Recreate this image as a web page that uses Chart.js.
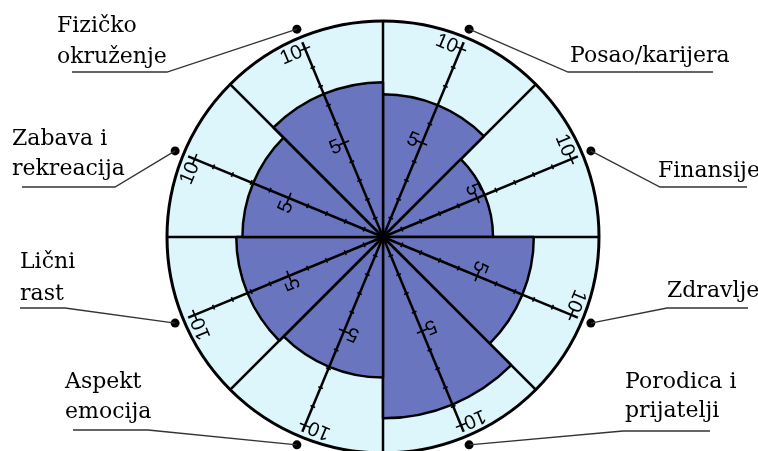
<!DOCTYPE html>
<html>
<head>
<meta charset="utf-8">
<script src="https://cdn.jsdelivr.net/npm/chart.js@4/dist/chart.umd.min.js"></script>
<style>
  html, body { margin: 0; padding: 0; background: #fff; overflow: hidden; }
  #wrap { width: 758px; height: 460px; }
</style>
</head>
<body>
<div id="wrap"><canvas id="wheel"></canvas></div>
<script>
// categories clockwise from the top
const categories = ["Posao/karijera", "Finansije", "Zdravlje", "Porodica i prijatelji",
                    "Aspekt emocija", "Lični rast", "Zabava i rekreacija", "Fizičko okruženje"];
const labelLines = [["Posao/karijera"], ["Finansije"], ["Zdravlje"], ["Porodica i", "prijatelji"],
                    ["Aspekt", "emocija"], ["Lični", "rast"], ["Zabava i", "rekreacija"], ["Fizičko", "okruženje"]];
const scores = [7.0, 5.4, 7.4, 8.9, 6.9, 7.2, 6.9, 7.6];
const scaleMax = 10.6;
const axisTicks = [1, 2, 3, 4, 5, 6, 7, 8, 9, 10];
const axisLabels = [5, 10];

// where each outside label sits: underline start/end and text baselines
const labelLayout = [
    { lx: 568, ly: 72, ex: 713, tx: 570, base: [62] },
    { lx: 660, ly: 187, ex: 747, tx: 658, base: [177] },
    { lx: 667, ly: 308, ex: 748, tx: 667, base: [297] },
    { lx: 623, ly: 431, ex: 710, tx: 625, base: [388, 417] },
    { lx: 148, ly: 430, ex: 73, tx: 65, base: [388, 418] },
    { lx: 65, ly: 308, ex: 20, tx: 20, base: [268, 300] },
    { lx: 115, ly: 187, ex: 22, tx: 12, base: [145, 175] },
    { lx: 167, ly: 72, ex: 72, tx: 57, base: [32, 63] }
];

const segmentAxes = {
    id: "segmentAxes",
    afterDatasetsDraw(chart) {
        const r = chart.scales.r;
        const ctx = chart.ctx;
        const half = Math.PI / categories.length;
        categories.forEach((c, i) => {
            const theta = r.getIndexAngle(i) + half;
            ctx.save();
            ctx.translate(r.xCenter, r.yCenter);
            ctx.rotate(theta);
            ctx.strokeStyle = "#000";
            ctx.lineWidth = 2.5;
            ctx.beginPath();
            ctx.moveTo(0, 0);
            ctx.lineTo(0, -r.getDistanceFromCenterForValue(10.35));
            ctx.stroke();
            ctx.lineWidth = 1.6;
            axisTicks.forEach(v => {
                const d = r.getDistanceFromCenterForValue(v);
                const len = axisLabels.includes(v) ? 5.5 : 2.5;
                ctx.beginPath();
                ctx.moveTo(-len, -d);
                ctx.lineTo(len, -d);
                ctx.stroke();
            });
            ctx.fillStyle = "#000";
            ctx.font = "20px 'Liberation Sans', Arial, sans-serif";
            ctx.textAlign = "right";
            ctx.textBaseline = "middle";
            axisLabels.forEach(v => {
                ctx.fillText(String(v), -4, -r.getDistanceFromCenterForValue(v) + 1);
            });
            ctx.restore();
        });

        // outside labels with leader lines
        const outer = r.getDistanceFromCenterForValue(scaleMax) + 9;
        categories.forEach((c, i) => {
            const a = r.getIndexAngle(i) + half - Math.PI / 2;
            const dx = r.xCenter + Math.cos(a) * outer;
            const dy = r.yCenter + Math.sin(a) * outer;
            const L = labelLayout[i];
            ctx.save();
            ctx.fillStyle = "#000";
            ctx.beginPath();
            ctx.arc(dx, dy, 4.5, 0, Math.PI * 2);
            ctx.fill();
            ctx.strokeStyle = "#333";
            ctx.lineWidth = 1.3;
            ctx.beginPath();
            ctx.moveTo(dx, dy);
            ctx.lineTo(L.lx, L.ly);
            ctx.lineTo(L.ex, L.ly);
            ctx.stroke();
            ctx.fillStyle = "#000";
            ctx.font = "22px 'DejaVu Serif', serif";
            ctx.textAlign = "left";
            ctx.textBaseline = "alphabetic";
            labelLines[i].forEach((t, k) => ctx.fillText(t, L.tx, L.base[k]));
            ctx.restore();
        });
    }
};

new Chart(document.getElementById("wheel"), {
    type: "polarArea",
    data: {
        labels: categories,
        datasets: [{
            data: scores,
            backgroundColor: "#6a75c0",
            borderColor: "#000",
            borderWidth: 2.5
        }]
    },
    options: {
        responsive: true,
        maintainAspectRatio: false,
        animation: false,
        layout: { padding: { top: 21, bottom: 7, left: 8, right: 0 } },
        plugins: { legend: { display: false }, tooltip: { enabled: false } },
        scales: {
            r: {
                min: 0,
                max: scaleMax,
                startAngle: 0,
                backgroundColor: "#ddf6fc",
                afterBuildTicks: s => { s.ticks = [{ value: 0 }, { value: scaleMax }]; },
                ticks: { display: false },
                grid: { circular: true, color: "#000", lineWidth: 3 },
                angleLines: { display: true, color: "#000", lineWidth: 2.5 },
                pointLabels: { display: false }
            }
        }
    },
    plugins: [segmentAxes]
});
</script>
</body>
</html>
